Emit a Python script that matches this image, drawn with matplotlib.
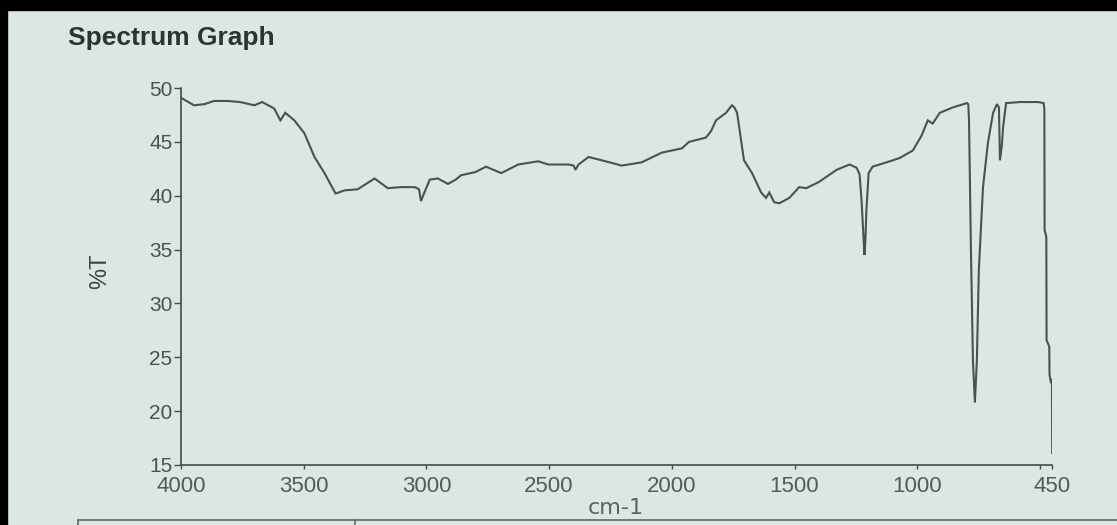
import matplotlib
matplotlib.use("Agg")
import matplotlib.pyplot as plt
from matplotlib.patches import Rectangle
from matplotlib.lines import Line2D

plt.rcParams["font.family"] = ["Liberation Sans", "DejaVu Sans"]

# ── IR spectrum (cm-1 vs %T) ────────────────────────────────────────────────
wavenumber = [
    4000, 3947, 3905, 3865, 3810, 3759, 3701, 3669, 3620, 3595, 3575, 3538,
    3497, 3456, 3415, 3370, 3333, 3280, 3211, 3157, 3104, 3047, 3030, 3022,
    3010, 2986, 2953, 2912, 2880, 2859, 2800, 2757, 2695, 2626, 2544, 2503,
    2421, 2400, 2393, 2380, 2339, 2270, 2204, 2123, 2041, 1959, 1930, 1861,
    1840, 1820, 1779, 1755, 1745, 1734, 1706, 1673, 1636, 1616, 1603, 1583,
    1562, 1521, 1481, 1452, 1399, 1329, 1276, 1247, 1235, 1227, 1219, 1215,
    1211, 1207, 1198, 1182, 1125, 1072, 1018, 982, 957, 937, 908, 855, 798,
    792, 789, 781, 773, 765, 757, 749, 732, 712, 691, 675, 667, 663, 656,
    650, 638, 581, 507, 485, 482, 481, 474, 473, 462, 461, 455, 452, 451, 450,
]
transmittance = [
    49.1, 48.4, 48.5, 48.8, 48.8, 48.7, 48.4, 48.7, 48.1, 47.0, 47.7, 47.0,
    45.8, 43.6, 42.1, 40.2, 40.5, 40.6, 41.6, 40.7, 40.8, 40.8, 40.6, 39.5,
    40.2, 41.5, 41.6, 41.1, 41.5, 41.9, 42.2, 42.7, 42.1, 42.9, 43.2, 42.9,
    42.9, 42.8, 42.4, 42.9, 43.6, 43.2, 42.8, 43.1, 44.0, 44.4, 45.0, 45.4,
    46.0, 47.0, 47.7, 48.4, 48.2, 47.7, 43.3, 42.1, 40.3, 39.8, 40.3, 39.4,
    39.3, 39.8, 40.8, 40.7, 41.3, 42.4, 42.9, 42.6, 42.0, 39.6, 36.2, 34.5,
    36.0, 38.7, 42.1, 42.7, 43.1, 43.5, 44.2, 45.6, 47.0, 46.7, 47.7, 48.2,
    48.6, 48.5, 47.0, 34.7, 24.7, 20.8, 24.7, 33.1, 40.8, 44.9, 47.7, 48.5,
    48.2, 43.3, 44.5, 46.4, 48.6, 48.7, 48.7, 48.6, 48.0, 36.8, 36.2, 26.6,
    26.0, 23.4, 22.6, 23.0, 22.4, 16.1,
]

x_ticks = [4000, 3500, 3000, 2500, 2000, 1500, 1000, 500, 450]
x_tick_labels = ["4000", "3500", "3000", "2500", "2000", "1500", "1000", "", "450"]
y_ticks = [15, 20, 25, 30, 35, 40, 45, 50]

paper = "#dee6e2"
ink = "#444b4b"

fig = plt.figure(figsize=(11.17, 5.25), dpi=100, facecolor=paper)
ax = fig.add_axes([0.162, 0.1143, 0.780, 0.718])
ax.set_facecolor(paper)

ax.plot(wavenumber, transmittance, color="#4a5151", lw=1.5,
        solid_joinstyle="miter")

ax.set_xlim(4000, 450)
ax.set_ylim(15, 50)
ax.set_xticks(x_ticks)
ax.set_xticklabels(x_tick_labels)
ax.set_yticks(y_ticks)

for side in ("top", "right"):
    ax.spines[side].set_visible(False)
for side in ("left", "bottom"):
    ax.spines[side].set_color(ink)
    ax.spines[side].set_linewidth(1.2)

ax.tick_params(axis="x", direction="out", length=3, width=1, colors=ink,
               labelcolor="#535a5a", labelsize=16, pad=5)
ax.tick_params(axis="y", direction="out", length=5, width=1, colors=ink,
               labelcolor="#4a5151", labelsize=15, pad=1)

fig.text(0.0609, 1 - 45 / 525, "Spectrum Graph", fontsize=19,
         fontweight="bold", color="#2c3333", va="baseline", ha="left")
fig.text(0.0895, 0.483, "%T", fontsize=17, color="#3e4545",
         rotation=90, ha="center", va="center")
fig.text(616 / 1117, 1 - 508 / 525, "cm-1", fontsize=16, color="#5a6262",
         family=["DejaVu Sans"], ha="center", va="center")

# photo frame edges (left and top) and the table rule under the graph
fig.patches.append(Rectangle((0, 0), 7 / 1117, 1, transform=fig.transFigure,
                             color="black", zorder=5))
fig.patches.append(Rectangle((0, 1 - 10 / 525), 1, 10 / 525,
                             transform=fig.transFigure, color="black", zorder=5))
y_rule = 1 - 520 / 525
fig.lines.append(Line2D([78 / 1117, 1], [y_rule, y_rule],
                        transform=fig.transFigure, color="#5f6767", lw=1.2))
for xr in (78 / 1117, 355 / 1117):
    fig.lines.append(Line2D([xr, xr], [0, y_rule], transform=fig.transFigure,
                            color="#5f6767", lw=1.2))

fig.savefig("out.png", dpi=100, facecolor=fig.get_facecolor())
